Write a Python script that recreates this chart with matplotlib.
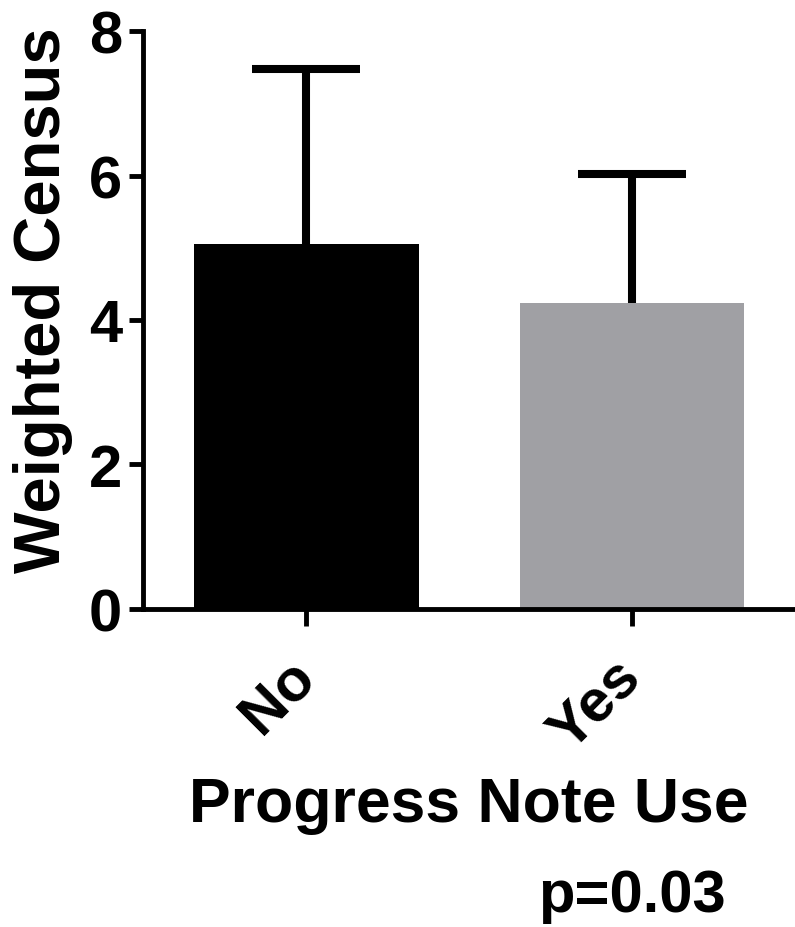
import matplotlib
matplotlib.use("Agg")
import matplotlib.pyplot as plt
import matplotlib.transforms as mtransforms

plt.rcParams['font.family'] = ['Liberation Sans', 'DejaVu Sans']
plt.rcParams['font.weight'] = 'bold'

# weighted census by progress note use (mean + SD)
groups = ["No", "Yes"]
means = [5.05, 4.24]
sd_upper = [2.42, 1.78]
bar_colors = ["#000000", "#A0A0A4"]
p_text = "p=0.03"

fig = plt.figure(figsize=(7.95, 9.28), dpi=100)
ax = fig.add_axes([0.180, 0.3427, 0.820, 0.6228])

x = list(range(len(groups)))
ax.bar(x, means, width=0.69, color=bar_colors, zorder=2)
eb = ax.errorbar(x, means, yerr=[[0, 0], sd_upper], fmt='none', ecolor='black',
                 elinewidth=5.8, capsize=39, capthick=5.8, zorder=1)
# only the upper cap is drawn
eb[1][0].set_visible(False)

ax.set_xlim(-0.5, 1.5)
ax.set_ylim(0, 8)
ax.set_yticks([0, 2, 4, 6, 8])
ax.set_xticks(x)
ax.set_xticklabels(groups, rotation=45, ha='right', va='center',
                   rotation_mode='anchor', fontsize=43, fontweight='bold')
shift = mtransforms.ScaledTranslation(-4 / 72, 0, fig.dpi_scale_trans)
for lab in ax.get_xticklabels():
    lab.set_transform(lab.get_transform() + shift)
for lab in ax.get_yticklabels():
    lab.set_fontsize(43)
    lab.set_fontweight('bold')

for side in ['top', 'right']:
    ax.spines[side].set_visible(False)
for side in ['left', 'bottom']:
    ax.spines[side].set_linewidth(3.5)
ax.tick_params(axis='y', width=3.5, length=10, pad=5)
ax.tick_params(axis='x', width=3.5, length=12, pad=30)

ax.set_ylabel("Weighted Census", fontsize=47, fontweight='bold')
ax.yaxis.set_label_coords(-0.108, 0.536)
ax.set_xlabel("Progress Note Use", fontsize=45, fontweight='bold')
ax.xaxis.set_label_coords(0.5, -0.288)

ax.text(1, -0.496, p_text, transform=ax.get_xaxis_transform(),
        ha='center', va='center', fontsize=43, fontweight='bold')

fig.savefig("out.png", dpi=100)
